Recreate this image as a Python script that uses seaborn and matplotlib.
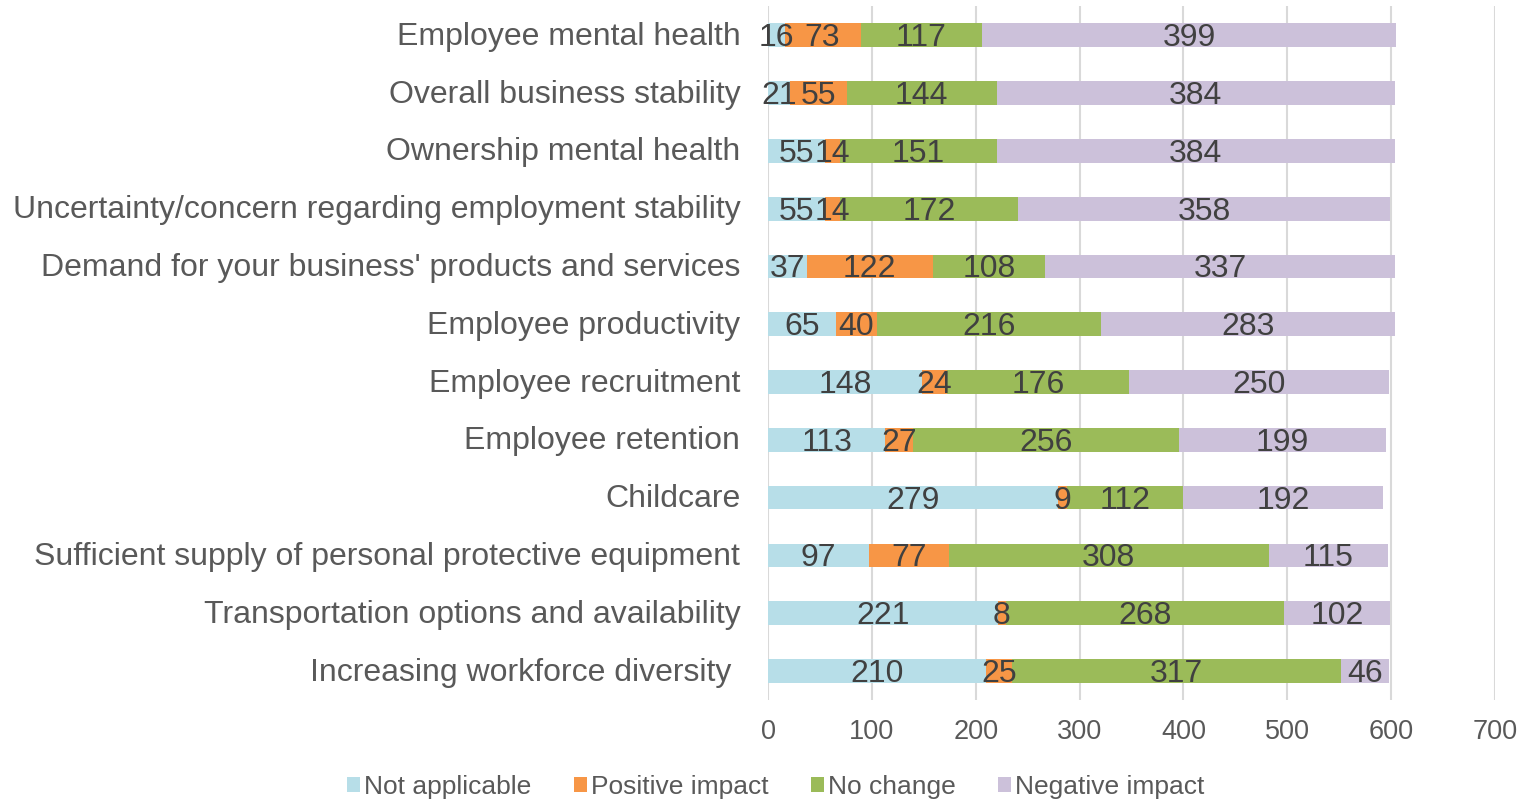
import matplotlib
matplotlib.use('Agg')
from matplotlib import pyplot as plt
import matplotlib.patches as patches
import numpy as np
import pandas as pd
import seaborn as sns

sns.set_style('white')
plt.rcParams['font.family'] = ['Liberation Sans', 'DejaVu Sans']

categories = ['Employee mental health', 'Overall business stability', 'Ownership mental health',
              'Uncertainty/concern regarding employment stability',
              "Demand for your business' products and services", 'Employee productivity',
              'Employee recruitment', 'Employee retention', 'Childcare',
              'Sufficient supply of personal protective equipment',
              'Transportation options and availability', 'Increasing workforce diversity ']
not_applicable = [16, 21, 55, 55, 37, 65, 148, 113, 279, 97, 221, 210]
positive_impact = [73, 55, 14, 14, 122, 40, 24, 27, 9, 77, 8, 25]
no_change = [117, 144, 151, 172, 108, 216, 176, 256, 112, 308, 268, 317]
negative_impact = [399, 384, 384, 358, 337, 283, 250, 199, 192, 115, 102, 46]

series = ['Not applicable', 'Positive impact', 'No change', 'Negative impact']
colors = ['#B7DEE8', '#F79646', '#9BBB59', '#CCC1DA']

df = pd.DataFrame({'cat': categories, series[0]: not_applicable, series[1]: positive_impact,
                   series[2]: no_change, series[3]: negative_impact})
cum = df[series].cumsum(axis=1)

fig = plt.figure(figsize=(15.24, 7.99), dpi=100)
ax = fig.add_axes([0.504, 0.124, 0.477, 0.868])

# draw from the widest cumulative bar down so each segment shows
for k in range(len(series) - 1, -1, -1):
    sns.barplot(x=cum[series[k]], y=df['cat'], color=colors[k], width=0.41,
                orient='h', ax=ax, saturation=1, linewidth=0, zorder=2)

for i in range(len(df)):
    for k, s in enumerate(series):
        v = df[s].iloc[i]
        start = cum[s].iloc[i] - v
        ax.text(start + v / 2, i + 0.05, str(v), ha='center', va='center',
                fontsize=23, color='#404040', zorder=3)

ax.set_xlim(0, 700)
ax.set_xticks(range(0, 701, 100))
ax.set_ylim(len(df) - 0.5, -0.5)
ax.set_xlabel('')
ax.set_ylabel('')
ax.grid(axis='x', color='#D9D9D9', linewidth=1.5, zorder=0)
ax.set_axisbelow(True)
for sp in ax.spines.values():
    sp.set_visible(False)
ax.tick_params(axis='y', length=0, pad=20, labelsize=23, labelcolor='#595959')
ax.tick_params(axis='x', length=0, pad=14, labelsize=19.5, labelcolor='#595959')
for lbl in ax.get_yticklabels():
    lbl.set_y(lbl.get_position()[1])
    lbl.set_transform(lbl.get_transform() + matplotlib.transforms.ScaledTranslation(0, 2 / 100, fig.dpi_scale_trans))

handles = [patches.Patch(facecolor=c, edgecolor='none') for c in colors]
fig.legend(handles, series, loc='lower center', ncol=4, bbox_to_anchor=(0.509, -0.03),
           frameon=False, fontsize=19, labelcolor='#595959', handlelength=0.5,
           handleheight=0.5, handletextpad=0.15, columnspacing=1.6)

plt.savefig('out.png', dpi=100)
